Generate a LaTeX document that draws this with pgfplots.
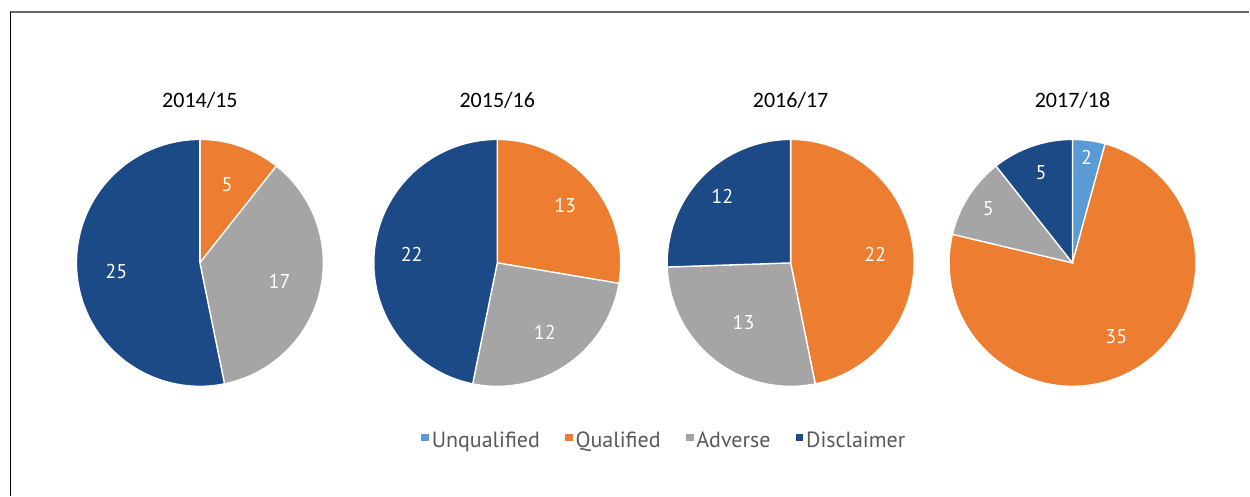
\documentclass[border=0pt]{standalone}
\usepackage{pgfplots}
\pgfplotsset{compat=1.18}
\usepackage{fontspec}
\setmainfont{Carlito}
\newfontfamily\labfont{PT Sans}
\definecolor{cUnq}{HTML}{5B9BD5}
\definecolor{cQua}{HTML}{ED7D31}
\definecolor{cAdv}{HTML}{A5A5A5}
\definecolor{cDis}{HTML}{1C4A87}
\def\R{123.5}
% #1 cx, #2 cy, #3 cumulative start, #4 value, #5 total, #6 colour, #7 label radius
\newcommand\pieslice[7]{%
 \pgfmathsetmacro\aS{90-(#3+#4)/#5*360}%
 \pgfmathsetmacro\aE{90-#3/#5*360}%
 \pgfmathsetmacro\aM{(\aS+\aE)/2}%
 \pgfmathsetmacro\lx{#1+#7*cos(\aM)}%
 \pgfmathsetmacro\ly{#2-#7*sin(\aM)}%
 \edef\doit{%
  \noexpand\addplot[fill=#6, draw=white, line width=1pt, domain=\aS:\aE, samples=90, forget plot] ({#1+\R*cos(x)},{#2-\R*sin(x)}) -- (#1,#2) -- cycle;
  \noexpand\node[text=white, font=\noexpand\labfont\noexpand\fontsize{15}{16}\noexpand\selectfont] at (\lx,\ly) {#4};
 }\doit
}
\begin{document}
\begin{tikzpicture}
\begin{axis}[width=937.5pt, height=372pt, scale only axis,
  xmin=0, xmax=1250, ymin=0, ymax=496, y dir=reverse,
  hide axis, clip=false,
  legend columns=4,
  legend style={at={(axis cs:665,441)}, anchor=center, draw=none, fill=none,
    font=\labfont\fontsize{16.5}{18}\selectfont, text=black!65,
    /tikz/every even column/.append style={column sep=17pt},
    inner sep=0pt},
  legend image code/.code={\fill[#1] (0pt,-0.5pt) rectangle (5.8pt,5.3pt);},
]
\path (0,0) rectangle (1250,496);
\addlegendimage{fill=cUnq, draw=none}\addlegendentry{Unqualified}
\addlegendimage{fill=cQua, draw=none}\addlegendentry{Qualified}
\addlegendimage{fill=cAdv, draw=none}\addlegendentry{Adverse}
\addlegendimage{fill=cDis, draw=none}\addlegendentry{Disclaimer}
% 2014/15: Qualified 5, Adverse 17, Disclaimer 25
\pieslice{200}{263}{0}{5}{47}{cQua}{83}
\pieslice{200}{263}{5}{17}{47}{cAdv}{82}
\pieslice{200}{263}{22}{25}{47}{cDis}{84}
% 2015/16: Qualified 13, Adverse 12, Disclaimer 22
\pieslice{497.5}{263}{0}{13}{47}{cQua}{89}
\pieslice{497.5}{263}{13}{12}{47}{cAdv}{84}
\pieslice{497.5}{263}{25}{22}{47}{cDis}{86}
% 2016/17: Qualified 22, Adverse 13, Disclaimer 12
\pieslice{791}{263}{0}{22}{47}{cQua}{85}
\pieslice{791}{263}{22}{13}{47}{cAdv}{76}
\pieslice{791}{263}{35}{12}{47}{cDis}{95}
% 2017/18: Unqualified 2, Qualified 35, Adverse 5, Disclaimer 5
\pieslice{1073}{263}{0}{2}{47}{cUnq}{106}
\pieslice{1073}{263}{2}{35}{47}{cQua}{86}
\pieslice{1073}{263}{37}{5}{47}{cAdv}{100}
\pieslice{1073}{263}{42}{5}{47}{cDis}{96}
\node[font=\fontsize{16.5}{18}\selectfont] at (200,100) {2014/15};
\node[font=\fontsize{16.5}{18}\selectfont] at (497.5,100) {2015/16};
\node[font=\fontsize{16.5}{18}\selectfont] at (791,100) {2016/17};
\node[font=\fontsize{16.5}{18}\selectfont] at (1073,100) {2017/18};
\draw[line width=0.9pt, black!60] (10.5,12) -- (1250,12);
\draw[line width=0.9pt, black] (10.5,12) -- (10.5,496);
\end{axis}
\end{tikzpicture}
\end{document}
